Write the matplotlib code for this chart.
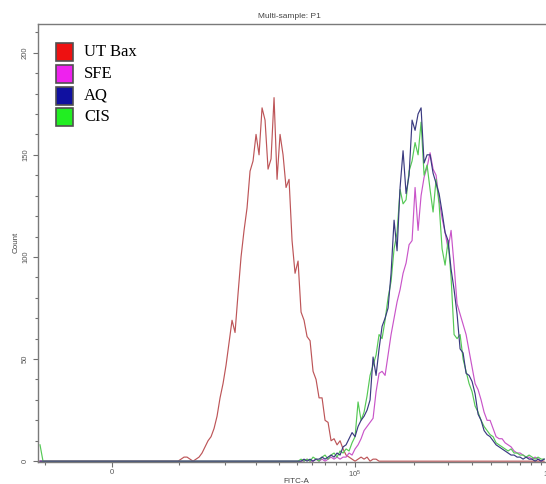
import numpy as np
import matplotlib.pyplot as plt
from matplotlib.patches import Rectangle
from matplotlib.ticker import FixedLocator, FixedFormatter

plt.rcParams['font.family'] = ['Liberation Sans', 'DejaVu Sans']
plt.rcParams['mathtext.fontset'] = 'custom'
plt.rcParams['mathtext.rm'] = 'Liberation Sans'

# display scale of the cytometer: asinh, channels are equal steps on it
LIN_WIDTH = 11400
CH_STEP = 0.0354
FIRST_CH, LAST_CH = -24, 144

names = ["UT Bax", "SFE", "AQ", "CIS"]
start_ch = [22, 62, 62, 62]

# counts per channel
ut_bax = [0, 1, 2, 2, 1, 0, 1, 2, 4, 7, 10, 12, 16, 22, 31, 38, 47, 58, 69, 63,
          82, 100, 113, 124, 142, 147, 160, 150, 173, 167, 143, 148, 178, 138,
          160, 150, 134, 138, 108, 92, 98, 73, 69, 61, 59, 44, 40, 31, 31, 20,
          19, 10, 11, 8, 10, 6, 3, 2, 1, 0, 1, 2, 1, 2, 0, 1, 1, 0]
sfe = [0, 0, 0, 1, 0, 0, 1, 0, 1, 0, 1, 2, 1, 2, 1,
       2, 2, 4, 3, 6, 8, 11, 15, 17, 19, 21, 34, 43, 44, 42, 52, 62, 70, 78, 84,
       92, 97, 106, 108, 134, 113, 130, 139, 144, 151, 143, 140, 128, 119, 112,
       104, 113, 96, 77, 72, 67, 62, 54, 46, 38, 35, 30, 24, 20, 20, 16, 12, 11,
       11, 9, 8, 7, 5, 4, 4, 3, 2, 2, 1, 2, 1, 0, 1]
aq = [0, 0, 1, 0, 1, 0, 1, 1, 2, 1, 2, 3, 2, 4, 3,
      7, 8, 11, 14, 12, 17, 20, 22, 25, 30, 51, 42, 55, 66, 70, 75, 92, 118, 103,
      134, 152, 131, 140, 167, 162, 170, 173, 146, 150, 150, 141, 136, 131, 122,
      112, 108, 94, 84, 72, 55, 53, 43, 42, 39, 33, 23, 20, 15, 13, 12, 10, 8, 7,
      6, 5, 4, 3, 3, 2, 2, 1, 2, 1, 1, 0, 1, 0, 1]
cis = [0, 1, 0, 1, 0, 2, 1, 0, 2, 3, 1, 3, 4, 2, 5,
       4, 6, 5, 9, 12, 29, 20, 24, 32, 42, 47, 52, 62, 60, 69, 80, 88, 104, 112,
       133, 126, 128, 142, 147, 156, 150, 166, 140, 145, 133, 122, 138, 126, 104,
       96, 108, 90, 62, 60, 62, 50, 44, 38, 34, 27, 24, 20, 17, 15, 13, 12, 9, 8,
       7, 6, 5, 6, 4, 4, 3, 3, 2, 3, 2, 1, 2, 1, 1]
cis_floor = 8  # events piled up in the lowest channel

line_colors = ['#bd5558', '#c955c9', '#3a3a80', '#55c955']
box_colors = ['#ee1111', '#ee22ee', '#1010a0', '#22ee22']

channels = np.arange(FIRST_CH, LAST_CH + 1)
fitc = LIN_WIDTH * np.sinh(channels * CH_STEP)


def full_series(counts, start):
    y = np.zeros(len(channels))
    i0 = start - FIRST_CH
    y[i0:i0 + len(counts)] = counts
    return y


series = [full_series(c, s) for c, s in zip([ut_bax, sfe, aq, cis], start_ch)]
series[3][0] = cis_floor

W, H = 546, 484
fig = plt.figure(figsize=(W / 100, H / 100), dpi=100)
ax = fig.add_axes([38 / W, 22 / H, 522 / W, 438.5 / H])
ax.set_xscale('asinh', linear_width=LIN_WIDTH)

for idx in [0, 1, 3, 2]:
    ax.plot(fitc, series[idx], color=line_colors[idx], lw=0.85)

ax.set_xlim(LIN_WIDTH * np.sinh(-24.67 * CH_STEP), LIN_WIDTH * np.sinh(149.3 * CH_STEP))
ax.set_ylim(-0.4, 214.3)

ax.xaxis.set_major_locator(FixedLocator([0, 1e5, 1e6]))
ax.xaxis.set_major_formatter(FixedFormatter(['0', r'$\mathregular{10^5}$', r'$\mathregular{10^6}$']))
minor_x = [-1e4, 1e4] + [k * 1e4 for k in range(2, 10)] + [k * 1e5 for k in range(2, 10)]
ax.xaxis.set_minor_locator(FixedLocator(minor_x))
ax.yaxis.set_major_locator(FixedLocator([0, 50, 100, 150, 200]))
ax.yaxis.set_minor_locator(FixedLocator([v for v in range(10, 211, 10) if v % 50]))

for sp in ax.spines.values():
    sp.set_color('#7a7a7a')
    sp.set_linewidth(1.0)
ax.tick_params(which='both', direction='out', color='#707070', width=0.8,
               labelcolor='#555555', labelsize=5.5)
ax.tick_params(which='major', length=3.5)
ax.tick_params(which='minor', length=2.2)
ax.tick_params(axis='x', pad=1.5)
ax.tick_params(axis='y', labelrotation=90, pad=3)
for lbl in ax.get_yticklabels():
    lbl.set_va('center')

fig.text(289 / W, 1 - 17 / H, 'Multi-sample: P1', fontsize=6, color='#444444',
         ha='center', va='center')
fig.text(296 / W, 1 - 478 / H, 'FITC-A', fontsize=5.8, color='#444444',
         ha='center', va='top')
fig.text(16 / W, 1 - 242 / H, 'Count', fontsize=5.8, color='#444444',
         ha='center', va='center', rotation=90)

# legend boxes as drawn by the acquisition software
for i, (name, col) in enumerate(zip(names, box_colors)):
    yc = 52.5 + 21.5 * i
    fig.add_artist(Rectangle((56 / W, 1 - (yc + 9) / H), 17 / W, 18 / H,
                             transform=fig.transFigure, facecolor=col,
                             edgecolor='#505050', lw=1.2))
    fig.text(84 / W, 1 - yc / H, name, fontsize=12, family='Liberation Serif',
             color='black', ha='left', va='center')

fig.savefig('out.png', dpi=100)
